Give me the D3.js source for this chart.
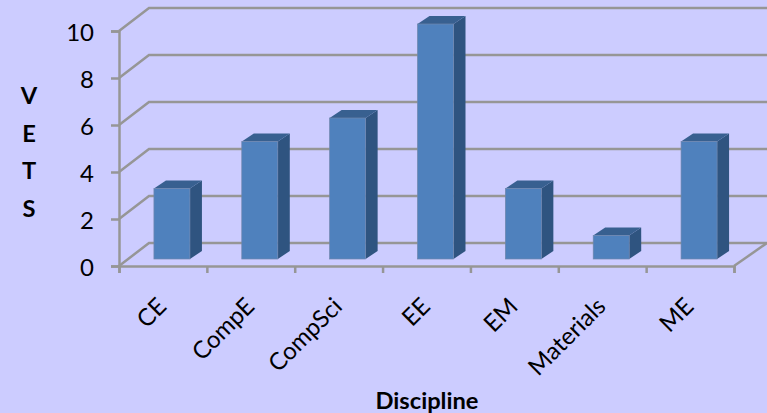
<!DOCTYPE html>
<html>
<head>
<meta charset="utf-8">
<script src="https://cdnjs.cloudflare.com/ajax/libs/d3/7.8.5/d3.min.js"></script>
<style>
  html, body { margin: 0; padding: 0; background: #ccccff; }
  svg { display: block; }
  text { font-family: Lato, "Open Sans", sans-serif; fill: #000; }
  .axis path, .axis line { stroke: #969696; stroke-width: 2.5px; }
</style>
</head>
<body>
<svg id="chart"></svg>
<script>
const disciplines = ["CE", "CompE", "CompSci", "EE", "EM", "Materials", "ME"];
const vets = [3, 5, 6, 10, 3, 1, 5];
const yTicks = [0, 2, 4, 6, 8, 10];
const yTitle = ["V", "E", "T", "S"];

const width = 767, height = 413;
const plotLeft = 119, plotRight = 734, plotTop = 31, plotBottom = 266;
const wallDx = 30, wallDy = -23; // 3d offset of back wall
const barDx = 12, barDy = -8;    // 3d depth of a bar
const barW = 36;

const svg = d3.select("#chart").attr("width", width).attr("height", height);

const x = d3.scaleBand().domain(disciplines).range([plotLeft, plotRight]);
const edge = d3.scaleLinear().domain([0, disciplines.length]).range([plotLeft, plotRight]);
const y = d3.scaleLinear().domain([0, 10]).range([plotBottom, plotTop]);

// gridlines: side wall then back wall
svg.append("g").selectAll("path")
  .data(yTicks)
  .join("path")
  .attr("d", d => `M${plotLeft},${y(d)}L${plotLeft + wallDx},${y(d) + wallDy}L${width},${y(d) + wallDy}`)
  .attr("fill", "none")
  .attr("stroke", "#969696")
  .attr("stroke-width", 2.5);

// right edge of the floor
svg.append("line")
  .attr("x1", plotRight).attr("y1", plotBottom)
  .attr("x2", plotRight + wallDx + 3).attr("y2", plotBottom + wallDy)
  .attr("stroke", "#969696")
  .attr("stroke-width", 2.5);

// axes
const yAxis = svg.append("g").attr("class", "axis")
  .attr("transform", `translate(${plotLeft},0)`)
  .call(d3.axisLeft(y).tickValues(yTicks).tickSizeOuter(0).tickSize(8).tickPadding(17));
yAxis.selectAll("text").style("font-size", "24px").attr("dy", "0.39em");

svg.append("g").attr("class", "axis")
  .attr("transform", `translate(0,${plotBottom})`)
  .call(d3.axisBottom(edge).tickValues(d3.range(disciplines.length + 1)).tickFormat("").tickSizeOuter(0).tickSize(7));

// bars
const barX = d => x(d) + x.step() / 2 - barW / 2 + 9;
const barY = v => y(v) - 7;
const barBase = y(0) - 7;

const bars = svg.append("g").selectAll("g")
  .data(disciplines.map((d, i) => ({ name: d, value: vets[i] })))
  .join("g");

bars.append("path") // side
  .attr("d", d => {
    const r = barX(d.name) + barW;
    return `M${r},${barY(d.value)}L${r + barDx},${barY(d.value) + barDy}L${r + barDx},${barBase + barDy}L${r},${barBase}Z`;
  })
  .attr("fill", "#2f5480");

bars.append("path") // top
  .attr("d", d => {
    const l = barX(d.name), t = barY(d.value);
    return `M${l},${t}L${l + barDx},${t + barDy}L${l + barW + barDx},${t + barDy}L${l + barW},${t}Z`;
  })
  .attr("fill", "#386090");

bars.append("rect") // front
  .attr("x", d => barX(d.name))
  .attr("y", d => barY(d.value))
  .attr("width", barW)
  .attr("height", d => barBase - barY(d.value))
  .attr("fill", "#4f81bd")
  .attr("stroke", "#6f86ad")
  .attr("stroke-width", 0.7);

// category labels
svg.append("g").selectAll("text")
  .data(disciplines)
  .join("text")
  .attr("text-anchor", "end")
  .attr("font-size", 24)
  .attr("transform", d => `translate(${x(d) + x.step() / 2 + 5},${plotBottom + 42}) rotate(-45)`)
  .text(d => d);

// axis titles
svg.append("text")
  .attr("x", 427).attr("y", 409)
  .attr("text-anchor", "middle")
  .attr("font-size", 23.7)
  .attr("font-weight", "bold")
  .text("Discipline");

svg.append("g").selectAll("text")
  .data(yTitle)
  .join("text")
  .attr("x", 29)
  .attr("y", (d, i) => 104 + i * 37.7)
  .attr("text-anchor", "middle")
  .attr("font-size", 23.7)
  .attr("font-weight", "bold")
  .text(d => d);
</script>
</body>
</html>
